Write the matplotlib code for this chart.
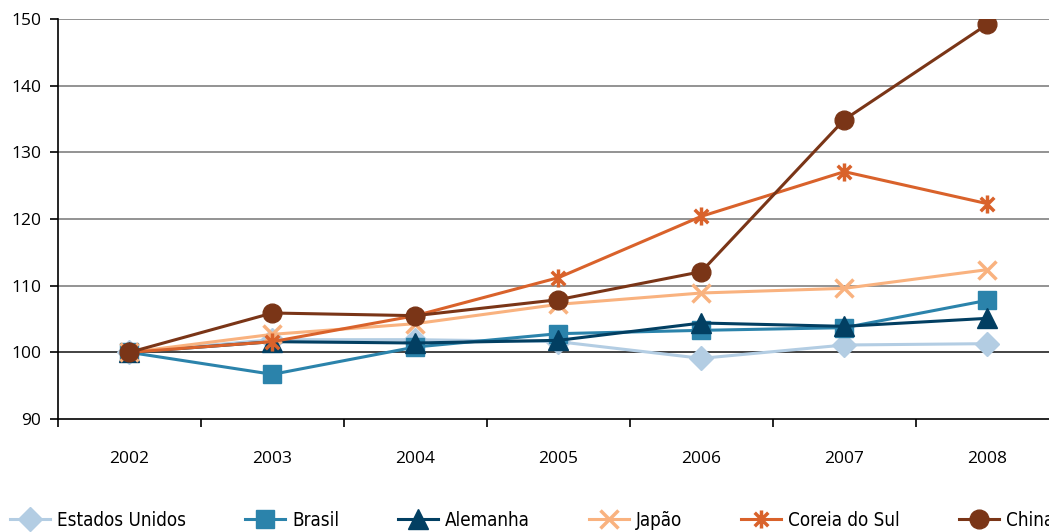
import numpy as np
import matplotlib.pyplot as plt
from matplotlib.path import Path

anos = ['2002', '2003', '2004', '2005', '2006', '2007', '2008']
estados_unidos = [100, 101.9, 101.9, 101.6, 99.1, 101.1, 101.3]
brasil = [100, 96.7, 100.8, 102.8, 103.3, 103.7, 107.8]
alemanha = [100, 101.6, 101.4, 101.8, 104.4, 103.9, 105.1]
japao = [100, 102.7, 104.3, 107.2, 108.9, 109.6, 112.4]
coreia = [100, 101.6, 105.5, 111.2, 120.4, 127.1, 122.3]
china = [100, 105.9, 105.5, 107.9, 112.1, 134.9, 149.2]

# asterisco: traco vertical + X
asterisco = Path([(0, -1), (0, 1), (-0.75, -0.75), (0.75, 0.75), (-0.75, 0.75), (0.75, -0.75)],
                 [Path.MOVETO, Path.LINETO, Path.MOVETO, Path.LINETO, Path.MOVETO, Path.LINETO])

series = [
    ('Estados Unidos', estados_unidos, '#b3cde3', 'D', 12),
    ('Brasil', brasil, '#2b83ab', 's', 13),
    ('Alemanha', alemanha, '#023f62', '^', 14),
    ('Japão', japao, '#f9b27f', 'x', 13),
    ('Coreia do Sul', coreia, '#d9622b', asterisco, 13),
    ('China', china, '#7a3517', 'o', 13.5),
]

plt.rcParams['font.family'] = ['Open Sans', 'DejaVu Sans']

fig = plt.figure(figsize=(10.49, 5.32), dpi=100)
ax = fig.add_axes([0.0553, 0.2124, 0.954, 0.7519])

x = np.arange(len(anos))
for nome, vals, cor, mk, ms in series:
    ax.plot(x, vals, color=cor, lw=2.2, marker=mk, markersize=ms,
            markeredgewidth=2.5 if mk == 'x' or mk is asterisco else 1,
            markerfacecolor=cor, markeredgecolor=cor, label=nome)

ax.set_xlim(-0.5, 6.5)
ax.set_ylim(90, 150)
ax.set_yticks(np.arange(90, 151, 10))
for v in range(110, 151, 10):
    ax.axhline(v, color='#808080', lw=1.2, zorder=0)
ax.axhline(100, color='#222222', lw=1.2, zorder=0)

ax.set_xticks(x)
ax.set_xticklabels(anos)
ax.set_xticks(np.arange(-0.5, 7, 1), minor=True)
ax.tick_params(axis='x', which='major', length=0, pad=23, labelsize=12.5)
ax.tick_params(axis='x', which='minor', length=6, width=1.2, direction='out')
ax.tick_params(axis='y', length=6, width=1.2, labelsize=12.5, pad=6)

for s in ['top', 'right']:
    ax.spines[s].set_visible(False)
ax.spines['left'].set_linewidth(1.2)
ax.spines['bottom'].set_linewidth(1.2)

fig.legend(loc='lower left', bbox_to_anchor=(0.01, 0.004), ncol=6, frameon=False,
           borderpad=0, borderaxespad=0,
           handlelength=2.1, columnspacing=3.15, handletextpad=0.4,
           prop={'family': 'DejaVu Sans', 'stretch': 'condensed', 'size': 13.5})

fig.savefig('out.png', dpi=100)
